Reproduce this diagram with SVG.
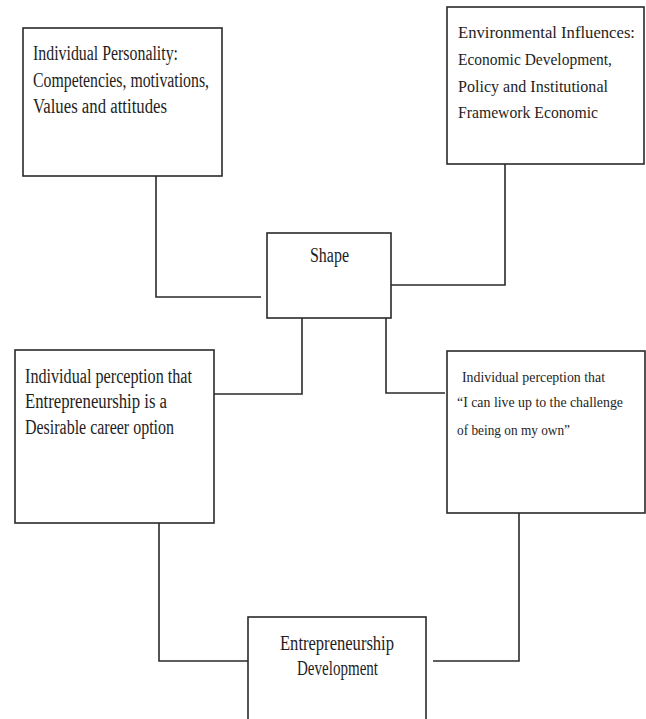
<svg xmlns="http://www.w3.org/2000/svg" width="646" height="719" viewBox="0 0 646 719">
<style>
  .box { fill: #ffffff; stroke: #2a2a2a; stroke-width: 1.6; }
  .conn { fill: none; stroke: #2a2a2a; stroke-width: 1.6; }
  text { font-family: "Liberation Serif", "Times New Roman", serif; fill: #1e1e1e; }
  .big { font-size: 20px; }
  .mid { font-size: 17.5px; }
  .sm { font-size: 15px; }
</style>
<rect x="0" y="0" width="646" height="719" fill="#ffffff"/>
<g id="connectors">
  <polyline class="conn" points="156,176 156,297 261,297"/>
  <polyline class="conn" points="505,164 505,285 391,285"/>
  <polyline class="conn" points="302,318 302,394 214,394"/>
  <polyline class="conn" points="386,318 386,393 445,393"/>
  <polyline class="conn" points="159,523 159,661 248,661"/>
  <polyline class="conn" points="519,513 519,661 433,661"/>
</g>
<g id="node-personality">
  <rect class="box" x="23" y="28" width="199" height="148"/>
  <text class="big" x="33" y="60" textLength="145" lengthAdjust="spacingAndGlyphs">Individual Personality:</text>
  <text class="big" x="33" y="87" textLength="176" lengthAdjust="spacingAndGlyphs">Competencies, motivations,</text>
  <text class="big" x="33" y="113" textLength="134" lengthAdjust="spacingAndGlyphs">Values and attitudes</text>
</g>
<g id="node-environment">
  <rect class="box" x="447" y="7" width="197" height="157"/>
  <text class="mid" x="458" y="38" textLength="177" lengthAdjust="spacingAndGlyphs">Environmental Influences:</text>
  <text class="mid" x="458" y="65" textLength="154" lengthAdjust="spacingAndGlyphs">Economic Development,</text>
  <text class="mid" x="458" y="92" textLength="150" lengthAdjust="spacingAndGlyphs">Policy and Institutional</text>
  <text class="mid" x="458" y="118" textLength="140" lengthAdjust="spacingAndGlyphs">Framework Economic</text>
</g>
<g id="node-shape">
  <rect class="box" x="267" y="233" width="124" height="85"/>
  <text class="big" x="310" y="262" textLength="39" lengthAdjust="spacingAndGlyphs">Shape</text>
</g>
<g id="node-desirable">
  <rect class="box" x="15" y="350" width="199" height="173"/>
  <text class="big" x="25" y="383" textLength="167" lengthAdjust="spacingAndGlyphs">Individual perception that</text>
  <text class="big" x="25" y="408" textLength="142" lengthAdjust="spacingAndGlyphs">Entrepreneurship is a</text>
  <text class="big" x="25" y="434" textLength="149" lengthAdjust="spacingAndGlyphs">Desirable career option</text>
</g>
<g id="node-challenge">
  <rect class="box" x="447" y="351" width="198" height="162"/>
  <text class="sm" x="462" y="382" textLength="143" lengthAdjust="spacingAndGlyphs">Individual perception that</text>
  <text class="sm" x="457" y="407" textLength="166" lengthAdjust="spacingAndGlyphs">“I can live up to the challenge</text>
  <text class="sm" x="457" y="435" textLength="113" lengthAdjust="spacingAndGlyphs">of being on my own”</text>
</g>
<g id="node-development">
  <rect class="box" x="248" y="617" width="178" height="115"/>
  <text class="big" x="280" y="650" textLength="114" lengthAdjust="spacingAndGlyphs">Entrepreneurship</text>
  <text class="big" x="297" y="675" textLength="81" lengthAdjust="spacingAndGlyphs">Development</text>
</g>
</svg>
